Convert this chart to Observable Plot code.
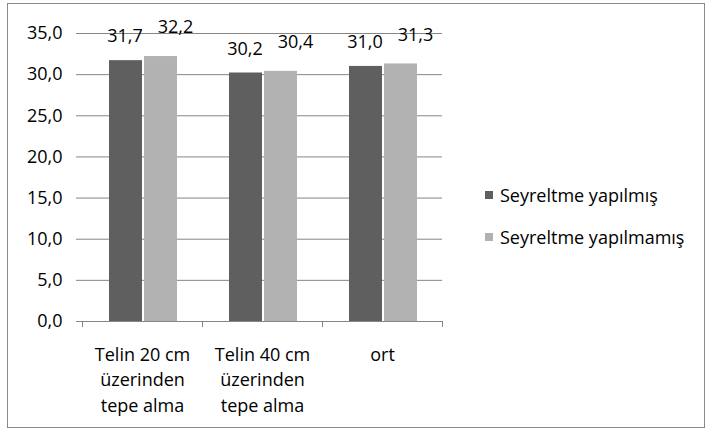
<!DOCTYPE html>
<html>
<head>
<meta charset="utf-8">
<script src="https://cdn.jsdelivr.net/npm/d3@7"></script>
<script src="https://cdn.jsdelivr.net/npm/@observablehq/plot@0.6"></script>
<style>
  html, body { margin: 0; padding: 0; background: #fff; }
  #wrap { position: relative; width: 707px; height: 431px; font-family: "Open Sans", sans-serif; overflow: hidden; }
  #border { position: absolute; left: 7px; top: 3px; width: 698px; height: 425px; border: 1px solid #8a8a8a; box-sizing: border-box; pointer-events: none; }
  #legend { position: absolute; left: 485px; top: 182px; font-size: 18px; color: #000; }
  .item { display: flex; align-items: center; height: 26px; margin-bottom: 16px; }
  .sw { width: 8px; height: 8px; margin-right: 7px; }
</style>
</head>
<body>
<div id="wrap"><div id="border"></div><div id="legend"></div></div>
<script>
const categories = ["Telin 20 cm\nüzerinden\ntepe alma", "Telin 40 cm\nüzerinden\ntepe alma", "ort"];
const seriesNames = ["Seyreltme yapılmış", "Seyreltme yapılmamış"];
const seyreltmeYapilmis = [31.7, 30.2, 31.0];
const seyreltmeYapilmamis = [32.2, 30.4, 31.3];
const yTicks = [0, 5, 10, 15, 20, 25, 30, 35];
const colors = ["#5f5f5f", "#b2b2b2"];

const dark = categories.map((c, i) => ({category: c, value: seyreltmeYapilmis[i]}));
const light = categories.map((c, i) => ({category: c, value: seyreltmeYapilmamis[i]}));
const fmt = d => d.toFixed(1).replace(".", ",");
const axisColor = "#868686";

const chart = Plot.plot({
  width: 707,
  height: 431,
  marginLeft: 82,
  marginRight: 265,
  marginTop: 33,
  marginBottom: 110,
  style: {fontFamily: "'Open Sans', sans-serif", fontSize: "18px", color: "#000", background: "transparent"},
  x: {domain: categories, padding: 0, axis: null},
  y: {domain: [0, 35], axis: null},
  marks: [
    Plot.gridY(yTicks.filter(d => d > 0), {stroke: axisColor, strokeOpacity: 1}),
    Plot.barY(dark, {x: "category", y: "value", fill: colors[0], insetLeft: 27, insetRight: 60}),
    Plot.barY(light, {x: "category", y: "value", fill: colors[1], insetLeft: 62, insetRight: 25}),
    Plot.text(dark, {x: "category", y: "value", text: d => fmt(d.value), dx: -17.5, dy: -24, fontSize: 18, fill: "#000"}),
    Plot.text(light, {x: "category", y: "value", text: d => fmt(d.value), dx: 33, dy: -29, fontSize: 18, fill: "#000"}),
    Plot.axisY(yTicks, {label: null, tickSize: 6, tickPadding: 14, tickFormat: fmt, stroke: axisColor, fill: "#000", fontSize: 18, line: true}),
    Plot.ruleY([0], {stroke: axisColor}),
    Plot.ruleX(categories, {x: d => d, dx: -60, y1: 0, y2: 0, insetBottom: -6, stroke: axisColor}),
    Plot.ruleX(categories.slice(-1), {x: d => d, dx: 60, y1: 0, y2: 0, insetBottom: -6, stroke: axisColor}),
    Plot.text(categories, {x: d => d, text: d => d, frameAnchor: "bottom", lineAnchor: "top", dy: 21, lineHeight: 1.42, fontSize: 18, fill: "#000"})
  ]
});
document.getElementById("wrap").prepend(chart);

const legend = document.getElementById("legend");
seriesNames.forEach((name, i) => {
  const item = document.createElement("div");
  item.className = "item";
  const sw = document.createElement("div");
  sw.className = "sw";
  sw.style.background = colors[i];
  const label = document.createElement("span");
  label.textContent = name;
  item.append(sw, label);
  legend.append(item);
});
</script>
</body>
</html>
